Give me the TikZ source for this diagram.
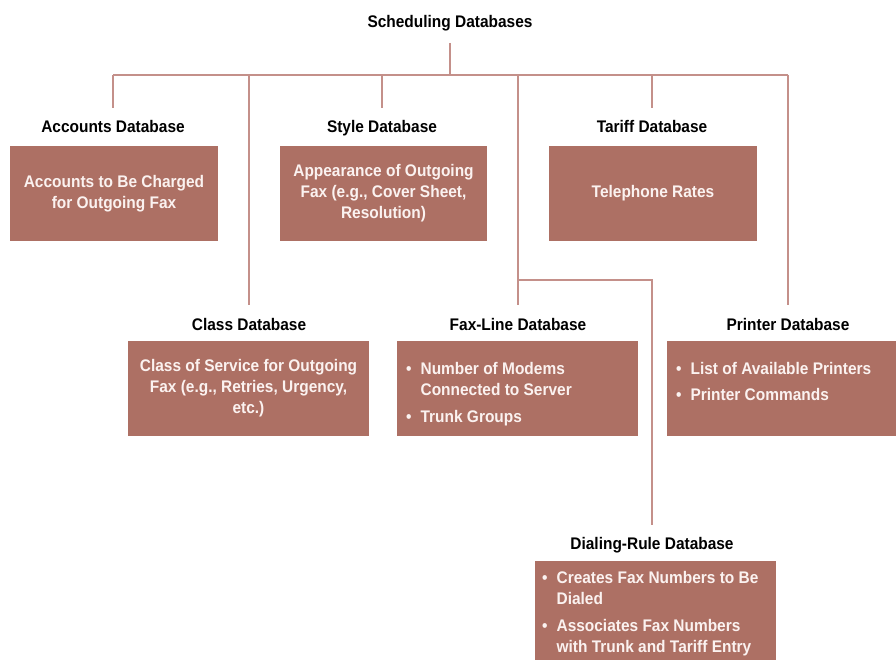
\documentclass[tikz,border=0pt]{standalone}
\usepackage{fontspec}
\setmainfont{Liberation Sans}[FakeStretch=0.92]
\usetikzlibrary{calc}
\definecolor{boxfill}{HTML}{AD7064}
\definecolor{linkcol}{HTML}{C4908A}
\definecolor{boxtext}{HTML}{FBF2F0}
\tikzset{
  x=1pt, y=-1pt,
  dblabel/.style={font=\fontsize{16.8}{19}\selectfont\bfseries, anchor=base, inner sep=0pt, text=black},
  dbbox/.style={fill=boxfill, draw=none, inner sep=0pt, text=boxtext,
    font=\fontsize{16.8}{21}\selectfont\bfseries, align=center},
  itemtext/.style={inner sep=0pt, anchor=base west, text=boxtext,
    font=\fontsize{16.8}{21}\selectfont\bfseries},
  link/.style={draw=linkcol, line width=1.3pt},
}
\newcommand\blt{\textbullet}
\begin{document}
\begin{tikzpicture}
\useasboundingbox (0,0) rectangle (896,660);

% heading and section labels
\node[dblabel] (title) at (450,28) {Scheduling Databases};
\node[dblabel] (accL)   at (113,133) {Accounts Database};
\node[dblabel] (styleL) at (382,133) {Style Database};
\node[dblabel] (tarL)   at (652,133) {Tariff Database};
\node[dblabel] (classL) at (249,330) {Class Database};
\node[dblabel] (faxL)   at (518,330) {Fax-Line Database};
\node[dblabel] (prnL)   at (788,330) {Printer Database};
\node[dblabel] (dialL)  at (652,549) {Dialing-Rule Database};

% content boxes
\node[dbbox, minimum width=208pt, minimum height=95pt] (accB) at (114,193.5)
  {Accounts to Be Charged\\for Outgoing Fax};
\node[dbbox, minimum width=207pt, minimum height=95pt] (styleB) at (383.5,193.5)
  {Appearance of Outgoing\\Fax (e.g., Cover Sheet,\\Resolution)};
\node[dbbox, minimum width=208pt, minimum height=95pt] (tarB) at (653,193.5)
  {Telephone Rates};
\node[dbbox, minimum width=241pt, minimum height=95pt] (classB) at (248.5,388.5)
  {Class of Service for Outgoing\\Fax (e.g., Retries, Urgency,\\etc.)};
\node[dbbox, minimum width=241pt, minimum height=95pt] (faxB) at (517.5,388.5) {};
\node[dbbox, minimum width=231pt, minimum height=95pt] (prnB) at (782.5,388.5) {};
\node[dbbox, minimum width=241pt, minimum height=109pt] (dialB) at (655.5,615.5) {};

% bulleted contents
\node[itemtext] (faxT) at (406,374) {\begin{tabular}[t]{@{}l@{\hspace{9pt}}l@{}}
  \blt & Number of Modems\\
       & Connected to Server\\[6pt]
  \blt & Trunk Groups
\end{tabular}};
\node[itemtext] (prnT) at (676,374) {\begin{tabular}[t]{@{}l@{\hspace{9pt}}l@{}}
  \blt & List of Available Printers\\[5pt]
  \blt & Printer Commands
\end{tabular}};
\node[itemtext] (dialT) at (542,583) {\begin{tabular}[t]{@{}l@{\hspace{9pt}}l@{}}
  \blt & Creates Fax Numbers to Be\\
       & Dialed\\[6pt]
  \blt & Associates Fax Numbers\\
       & with Trunk and Tariff Entry
\end{tabular}};

% connector tree
\coordinate (bus) at (450,75);
\coordinate (split) at (518,280);
\draw[link] ([yshift=-15pt]title.base) -- (bus);
\draw[link] (bus -| accL) -- (bus -| prnL);
\draw[link] (bus -| accL)   -- ([yshift=25pt]accL.base);
\draw[link] (bus -| styleL) -- ([yshift=25pt]styleL.base);
\draw[link] (bus -| tarL)   -- ([yshift=25pt]tarL.base);
\draw[link] (bus -| classL) -- ([yshift=25pt]classL.base);
\draw[link] (bus -| faxL)   -- ([yshift=25pt]faxL.base);
\draw[link] (bus -| prnL)   -- ([yshift=25pt]prnL.base);
\draw[link] (split) -- (split -| dialL) -- ([yshift=24pt]dialL.base);
\end{tikzpicture}
\end{document}
